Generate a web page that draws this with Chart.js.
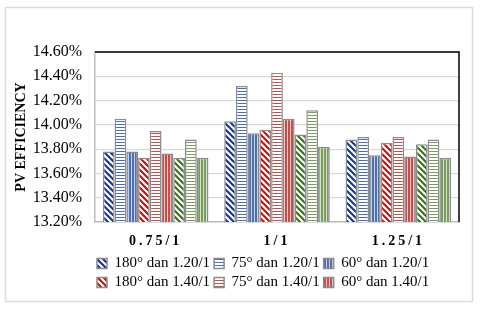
<!DOCTYPE html>
<html>
<head>
<meta charset="utf-8">
<script src="https://cdn.jsdelivr.net/npm/chart.js@4/dist/chart.umd.min.js"></script>
<style>
  html, body { margin: 0; padding: 0; background: #fff; }
  #wrap { width: 480px; height: 309px; }
</style>
</head>
<body>
<div id="wrap"><canvas id="myBarChart"></canvas></div>
<script>
// values (PV efficiency, %)
var categories = ['0.75/1', '1/1', '1.25/1'];
var seriesNames = [
    '180\u00b0 dan 1.20/1', '75\u00b0 dan 1.20/1', '60\u00b0 dan 1.20/1',
    '180\u00b0 dan 1.40/1', '75\u00b0 dan 1.40/1', '60\u00b0 dan 1.40/1',
    '180\u00b0 dan 1.50/1', '75\u00b0 dan 1.50/1', '60\u00b0 dan 1.50/1'
];
var s180_120 = [13.78, 14.03, 13.88];
var s75_120 = [14.05, 14.32, 13.90];
var s60_120 = [13.78, 13.93, 13.75];
var s180_140 = [13.73, 13.96, 13.85];
var s75_140 = [13.95, 14.43, 13.90];
var s60_140 = [13.765, 14.05, 13.74];
var s180_150 = [13.73, 13.92, 13.84];
var s75_150 = [13.88, 14.12, 13.88];
var s60_150 = [13.73, 13.82, 13.73];
var yTicks = [13.2, 13.4, 13.6, 13.8, 14.0, 14.2, 14.4, 14.6];

// make a small hatch tile
function hatch(type, fg, bg) {
    var c = document.createElement('canvas');
    var s = type == 'diag' ? 6 : 3;
    c.width = s; c.height = s;
    var g = c.getContext('2d');
    g.fillStyle = bg;
    g.fillRect(0, 0, s, s);
    g.fillStyle = fg;
    g.strokeStyle = fg;
    if (type == 'diag') {
        g.lineWidth = 2.2;
        g.beginPath();
        g.moveTo(-1, -1); g.lineTo(s + 1, s + 1);
        g.moveTo(-1, s - 1); g.lineTo(1, s + 1);
        g.moveTo(s - 1, -1); g.lineTo(s + 1, 1);
        g.stroke();
    } else if (type == 'horiz') {
        g.fillRect(0, 1, s, 1);
    } else {
        g.fillRect(0, 0, 2, s);
    }
    return g.createPattern(c, 'repeat');
}

var fills = [
    hatch('diag', '#1f3a7a', '#ffffff'),
    hatch('horiz', '#4a6db5', '#ffffff'),
    hatch('vert', '#4f6fae', '#c5d2ea'),
    hatch('diag', '#b01c1c', '#ffffff'),
    hatch('horiz', '#c0504d', '#ffffff'),
    hatch('vert', '#c0504d', '#eec6c5'),
    hatch('diag', '#3f6e26', '#ffffff'),
    hatch('horiz', '#7a9c5f', '#ffffff'),
    hatch('vert', '#7a9c5f', '#d5e2c9')
];
var values = [s180_120, s75_120, s60_120, s180_140, s75_140, s60_140, s180_150, s75_150, s60_150];

var datasets = [];
for (var i = 0; i < values.length; i++) {
    datasets.push({
        label: seriesNames[i],
        data: values[i],
        backgroundColor: fills[i],
        borderColor: '#8c8c8c',
        borderWidth: 1.5,
        categoryPercentage: 0.87,
        barPercentage: 1.0
    });
}

// light frame round the chart, black top/right edge of the plot,
// spaced x labels and legend lined up under the plot
var framePlugin = {
    id: 'frame',
    afterLayout: function (chart) {
        var xs = chart.scales.x;
        if (!xs._spaced) {
            var orig = xs.drawLabels.bind(xs);
            xs.drawLabels = function (area) {
                var c = this.ctx;
                c.save();
                c.letterSpacing = '3px';
                orig(area);
                c.restore();
            };
            xs._spaced = true;
        }
        var lg = chart.legend;
        lg.left = chart.chartArea.left - 2;
    },
    beforeDraw: function (chart) {
        var ctx = chart.ctx;
        ctx.save();
        ctx.strokeStyle = '#dcdcdc';
        ctx.lineWidth = 1.5;
        ctx.strokeRect(5.5, 7.5, 467, 294);
        ctx.restore();
    },
    afterDraw: function (chart) {
        var a = chart.chartArea;
        var ctx = chart.ctx;
        ctx.save();
        ctx.strokeStyle = '#000';
        ctx.lineWidth = 1.5;
        ctx.beginPath();
        ctx.moveTo(a.left, a.top);
        ctx.lineTo(a.right, a.top);
        ctx.lineTo(a.right, a.bottom);
        ctx.stroke();
        ctx.restore();
    }
};

var config = {
    type: 'bar',
    data: {
        labels: categories,
        datasets: datasets
    },
    options: {
        responsive: true,
        maintainAspectRatio: false,
        animation: false,
        layout: {
            padding: { top: 52, left: 8, right: 21, bottom: 9 }
        },
        plugins: {
            tooltip: { enabled: false },
            legend: {
                position: 'bottom',
                align: 'start',
                labels: {
                    boxWidth: 10,
                    boxHeight: 10,
                    padding: 4,
                    color: '#000',
                    font: { family: 'Liberation Serif', size: 15 },
                    filter: function (item) { return item.datasetIndex < 6; }
                }
            }
        },
        scales: {
            x: {
                grid: { display: false, drawTicks: false },
                border: { color: '#bfbfbf', width: 1.5 },
                ticks: {
                    color: '#000',
                    padding: 11,
                    font: { family: 'Liberation Serif', size: 14, weight: 'bold' }
                },
                afterFit: function (scale) { scale.height = 30; }
            },
            y: {
                min: yTicks[0],
                max: yTicks[yTicks.length - 1],
                afterBuildTicks: function (scale) {
                    scale.ticks = yTicks.map(function (v) { return { value: v }; });
                },
                grid: { color: '#d9d9d9', lineWidth: 1.2, drawTicks: false },
                border: { color: '#bfbfbf', width: 1.5 },
                ticks: {
                    color: '#000',
                    padding: 13,
                    font: { family: 'Liberation Serif', size: 16 },
                    callback: function (v) { return v.toFixed(2) + '%'; }
                },
                title: {
                    display: true,
                    text: 'PV EFFICIENCY',
                    color: '#000',
                    padding: { top: 5, bottom: 3 },
                    font: { family: 'Liberation Serif', size: 14, weight: 'bold' }
                },
                afterFit: function (scale) { scale.width = 87; }
            }
        }
    },
    plugins: [framePlugin]
};

var ctx = document.getElementById('myBarChart').getContext('2d');
var myBarChart = new Chart(ctx, config);
</script>
</body>
</html>
